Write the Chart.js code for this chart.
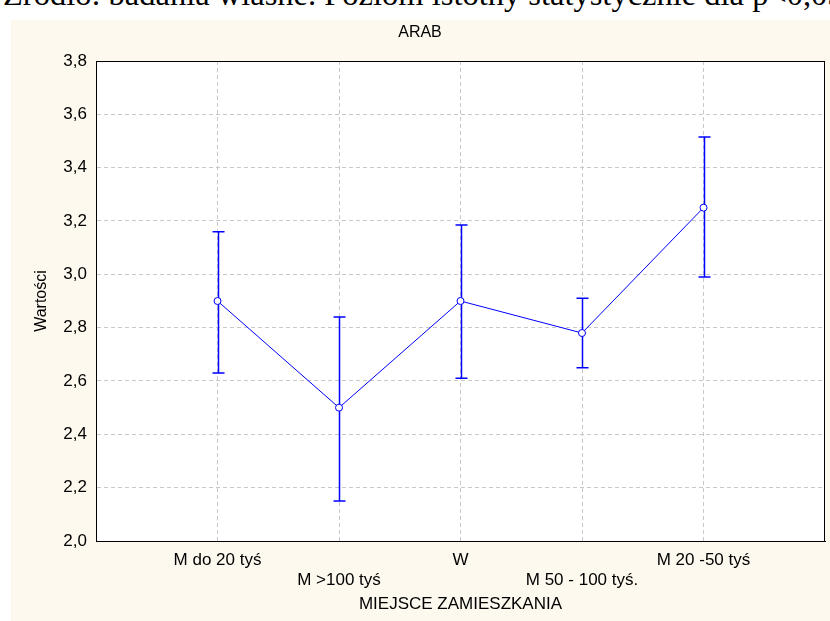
<!DOCTYPE html>
<html>
<head>
<meta charset="utf-8">
<script src="https://cdn.jsdelivr.net/npm/chart.js@4"></script>
<style>
  html, body { margin: 0; padding: 0; background: #ffffff; width: 830px; height: 621px; overflow: hidden; position: relative; }
  #src { position: absolute; left: 3px; top: -22px; font-family: "Liberation Serif", serif; font-size: 32.5px; line-height: 32px; white-space: nowrap; color: #000; }
  #panel { position: absolute; left: 11px; top: 20px; width: 819px; height: 601px; background: #fdf9ee; }
  canvas { display: block; }
</style>
</head>
<body>
<div id="src">Źródło: badania własne. Poziom istotny statystycznie dla p&lt;0,05</div>
<div id="panel"><canvas id="c" width="819" height="601"></canvas></div>
<script>
const categories = ['M do 20 tyś', 'M >100 tyś', 'W', 'M 50 - 100 tyś.', 'M 20 -50 tyś'];
const means = [2.90, 2.50, 2.90, 2.78, 3.25];
const upper = [3.16, 2.84, 3.185, 2.91, 3.515];
const lower = [2.63, 2.15, 2.61, 2.65, 2.99];
const yTickValues = [2.0, 2.2, 2.4, 2.6, 2.8, 3.0, 3.2, 3.4, 3.6, 3.8];
const yTickLabels = ['2,0', '2,2', '2,4', '2,6', '2,8', '3,0', '3,2', '3,4', '3,6', '3,8'];
const xPositions = [1, 2, 3, 4, 5];

const BLUE = '#0000ff';
const FONT = 'Liberation Sans, Arial, sans-serif';

const plotBg = {
  id: 'plotBg',
  beforeDraw(chart) {
    const {ctx, chartArea: a} = chart;
    ctx.save();
    ctx.fillStyle = '#ffffff';
    ctx.fillRect(a.left, a.top, a.right - a.left, a.bottom - a.top);
    ctx.restore();
  },
  afterDraw(chart) {
    const {ctx, chartArea: a} = chart;
    ctx.save();
    ctx.strokeStyle = '#000000';
    ctx.lineWidth = 1;
    ctx.strokeRect(Math.round(a.left) + 0.5, Math.round(a.top) + 0.5, Math.round(a.right - a.left) - 1, Math.round(a.bottom - a.top));
    ctx.restore();
  }
};

const errorBars = {
  id: 'errorBars',
  beforeDatasetsDraw(chart) {
    const {ctx, scales: {x, y}} = chart;
    ctx.save();
    ctx.strokeStyle = BLUE;
    ctx.lineWidth = 1.5;
    categories.forEach((c, i) => {
      const px = Math.round(x.getPixelForValue(xPositions[i])) + 0.5;
      const t = y.getPixelForValue(upper[i]);
      const b = y.getPixelForValue(lower[i]);
      ctx.beginPath();
      ctx.moveTo(px, t); ctx.lineTo(px, b);
      ctx.moveTo(px - 6, t); ctx.lineTo(px + 6, t);
      ctx.moveTo(px - 6, b); ctx.lineTo(px + 6, b);
      ctx.stroke();
    });
    ctx.restore();
  }
};

new Chart(document.getElementById('c'), {
  type: 'line',
  data: {
    datasets: [{
      data: categories.map((c, i) => ({x: xPositions[i], y: means[i]})),
      borderColor: BLUE,
      borderWidth: 1,
      pointRadius: 3.5,
      pointBackgroundColor: '#ffffff',
      pointBorderColor: BLUE,
      pointBorderWidth: 1,
      tension: 0
    }]
  },
  options: {
    responsive: false,
    animation: false,
    layout: {padding: {left: 0, right: 1, top: 0, bottom: 0}},
    plugins: {
      legend: {display: false},
      tooltip: {enabled: false},
      title: {
        display: true,
        text: 'ARAB',
        color: '#000',
        font: {family: FONT, size: 16, weight: 'normal', lineHeight: 1.2},
        padding: {top: 3, bottom: 18.8}
      }
    },
    scales: {
      x: {
        type: 'linear',
        min: 0,
        max: 6,
        afterBuildTicks(s) { s.ticks = xPositions.map(v => ({value: v})); },
        afterFit(s) { s.height = 80; },
        ticks: {
          autoSkip: false,
          maxRotation: 0,
          padding: 9,
          color: '#000',
          font: {family: FONT, size: 17, lineHeight: 1.2},
          callback(v, i) { return i % 2 === 1 ? ['', categories[i]] : categories[i]; }
        },
        grid: {color: '#c8c8c8', lineWidth: 1, drawTicks: false},
        border: {display: true, color: '#000', dash: [4, 3]},
        title: {
          display: true,
          text: 'MIEJSCE ZAMIESZKANIA',
          color: '#000',
          font: {family: FONT, size: 17, lineHeight: 1.2},
          padding: {top: 0, bottom: 6}
        }
      },
      y: {
        type: 'linear',
        min: 2.0,
        max: 3.8,
        afterBuildTicks(s) { s.ticks = yTickValues.map(v => ({value: v})); },
        afterFit(s) { s.width = 85; },
        ticks: {
          padding: 9,
          color: '#000',
          font: {family: FONT, size: 17},
          callback(v, i) { return yTickLabels[i]; }
        },
        grid: {color: '#c8c8c8', lineWidth: 1, drawTicks: false},
        border: {display: true, color: '#000', dash: [4, 3]},
        title: {
          display: true,
          text: 'Wartości',
          color: '#000',
          font: {family: FONT, size: 16, lineHeight: 1.2},
          padding: {top: 21, bottom: 0}
        }
      }
    }
  },
  plugins: [plotBg, errorBars]
});
</script>
</body>
</html>
